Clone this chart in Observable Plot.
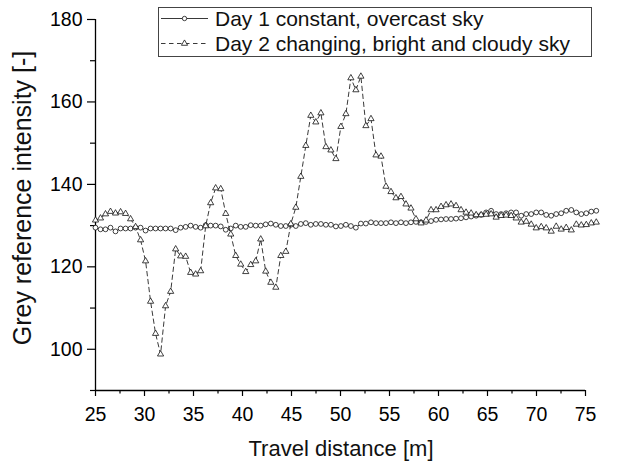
<!DOCTYPE html>
<html><head><meta charset="utf-8">
<script src="https://cdn.jsdelivr.net/npm/d3@7"></script>
<script src="https://cdn.jsdelivr.net/npm/@observablehq/plot@0.6"></script>
<style>body{margin:0;background:#fff} svg{display:block}</style>
</head><body><div id="chart"></div>
<script>
const distance = [25.00,25.51,26.02,26.53,27.04,27.56,28.07,28.58,29.09,29.60,
 30.11,30.62,31.13,31.64,32.15,32.67,33.18,33.69,34.20,34.71,
 35.22,35.73,36.24,36.75,37.26,37.78,38.29,38.80,39.31,39.82,
 40.33,40.84,41.35,41.86,42.37,42.89,43.40,43.91,44.42,44.93,
 45.44,45.95,46.46,46.97,47.48,48.00,48.51,49.02,49.53,50.04,
 50.55,51.06,51.57,52.08,52.59,53.11,53.62,54.13,54.64,55.15,
 55.66,56.17,56.68,57.19,57.70,58.22,58.73,59.24,59.75,60.26,
 60.77,61.28,61.79,62.30,62.81,63.33,63.84,64.35,64.86,65.37,
 65.88,66.39,66.90,67.41,67.92,68.44,68.95,69.46,69.97,70.48,
 70.99,71.50,72.01,72.52,73.03,73.55,74.06,74.57,75.08,75.59,
 76.10];
const day1 = [129.5,129.1,129.1,129.5,128.6,129.3,129.3,129.3,129.5,129.5,
 128.8,129.3,129.3,129.3,129.3,129.3,128.9,129.5,129.7,130.0,
 129.7,129.5,130.1,130.0,130.0,129.8,129.0,129.3,130.0,129.7,
 129.7,130.1,130.0,130.0,130.3,130.5,130.2,129.9,129.9,130.2,
 129.9,130.4,130.6,130.2,130.4,130.4,130.2,130.2,129.8,129.9,
 130.2,129.9,129.5,130.5,130.5,130.8,130.6,130.6,130.6,130.8,
 130.6,130.8,130.6,130.8,130.9,130.8,130.9,131.1,131.4,131.5,
 131.6,131.6,131.7,131.8,132.0,132.2,132.4,132.6,133.2,133.6,
 132.8,132.8,133.0,133.2,133.2,132.4,132.8,132.8,133.2,133.2,
 132.6,132.4,132.8,133.0,133.6,133.8,133.2,132.8,133.0,133.4,
 133.6];
const day2 = [131.3,131.8,132.8,133.4,133.0,133.3,132.9,131.6,129.7,126.5,
 121.4,111.6,103.8,98.8,110.5,114.0,124.3,122.6,122.5,118.6,
 118.2,119.0,129.9,135.5,139.1,138.9,132.9,127.9,122.7,120.6,
 118.8,120.5,121.4,126.7,118.9,116.2,115.0,122.7,123.7,130.4,
 134.4,141.9,149.4,156.7,155.1,157.3,149.1,148.3,146.2,154.0,
 157.1,165.8,162.9,166.2,154.2,155.9,147.1,146.8,139.5,138.2,
 136.7,137.0,135.2,134.2,131.6,130.6,131.3,133.8,133.8,134.6,
 135.0,135.2,134.8,133.8,133.2,133.0,132.6,132.6,132.7,132.8,
 132.0,132.4,132.5,132.4,131.8,130.8,131.0,130.3,129.4,129.7,
 129.4,128.6,129.8,129.1,129.5,128.9,130.3,130.1,130.2,130.6,
 130.8];
const seriesNames = ["Day 1 constant, overcast sky", "Day 2 changing, bright and cloudy sky"];
const xTicks = [25,30,35,40,45,50,55,60,65,70,75];
const xMinor = [27.5,32.5,37.5,42.5,47.5,52.5,57.5,62.5,67.5,72.5];
const yTicks = [100,120,140,160,180];
const yMinor = [90,110,130,150,170];
const xTitle = "Travel distance [m]";
const yTitle = "Grey reference intensity [-]";

const d1 = distance.map((d, i) => ({x: d, y: day1[i]}));
const d2 = distance.map((d, i) => ({x: d, y: day2[i]}));

const W = 617, H = 465;
const plot = Plot.plot({
  width: W, height: H,
  marginLeft: 95, marginRight: 32, marginTop: 19, marginBottom: 75,
  style: {fontFamily: "'Liberation Sans', Arial, sans-serif", background: "#fff", color: "#000"},
  x: {domain: [25, 75]},
  y: {domain: [90, 180]},
  marks: [
    Plot.axisX(xTicks, {tickSize: 6, tickPadding: 11, fontSize: 19.5, label: null, strokeWidth: 1.2}),
    Plot.axisX(xMinor, {tickSize: 3.5, text: null, label: null, strokeWidth: 1.2}),
    Plot.axisY(yTicks, {tickSize: 8, tickPadding: 5, fontSize: 19.5, label: null, strokeWidth: 1.2}),
    Plot.axisY(yMinor, {tickSize: 5, text: null, label: null, strokeWidth: 1.2}),
    Plot.ruleX([25], {y1: 90, y2: 180, stroke: "#000", strokeWidth: 1.3}),
    Plot.ruleY([90], {x1: 25, x2: 75, stroke: "#000", strokeWidth: 1.3}),
    Plot.line(d1, {x: "x", y: "y", stroke: "#222", strokeWidth: 0.9}),
    Plot.dot(d1, {x: "x", y: "y", r: 2.4, symbol: "circle", fill: "#fff", stroke: "#111", strokeWidth: 0.8}),
    Plot.line(d2, {x: "x", y: "y", stroke: "#222", strokeWidth: 0.9, strokeDasharray: "4.5,3.5"}),
    Plot.dot(d2, {x: "x", y: "y", r: 2.3, symbol: "triangle", fill: "#fff", stroke: "#111", strokeWidth: 0.8})
  ]
});
document.getElementById("chart").appendChild(plot);

const svg = d3.select(plot);
const font = "'Liberation Sans', Arial, sans-serif";
svg.append("text").attr("x", 341).attr("y", 456).attr("text-anchor", "middle")
  .attr("font-family", font).attr("font-size", 22).attr("fill", "#111").text(xTitle);
svg.append("text").attr("transform", "translate(31,198) rotate(-90)").attr("text-anchor", "middle")
  .attr("font-family", font).attr("font-size", 25).attr("fill", "#111").text(yTitle);

// legend
const lg = svg.append("g");
lg.append("rect").attr("x", 158.5).attr("y", 7.5).attr("width", 433).attr("height", 49)
  .attr("fill", "#fff").attr("stroke", "#444").attr("stroke-width", 1);
const rows = [18.5, 43.5];
lg.append("line").attr("x1", 161).attr("x2", 208).attr("y1", rows[0]).attr("y2", rows[0])
  .attr("stroke", "#222").attr("stroke-width", 0.9);
lg.append("circle").attr("cx", 184.5).attr("cy", rows[0]).attr("r", 2.2)
  .attr("fill", "#fff").attr("stroke", "#111").attr("stroke-width", 0.8);
lg.append("line").attr("x1", 161).attr("x2", 208).attr("y1", rows[1]).attr("y2", rows[1])
  .attr("stroke", "#222").attr("stroke-width", 0.9).attr("stroke-dasharray", "4.5,3.5");
lg.append("path").attr("transform", `translate(184.5,${rows[1]})`)
  .attr("d", d3.symbol(d3.symbolTriangle, Math.PI * 2.3 * 2.3)())
  .attr("fill", "#fff").attr("stroke", "#111").attr("stroke-width", 0.8);
seriesNames.forEach((name, i) => {
  lg.append("text").attr("x", 215).attr("y", rows[i]).attr("dy", "0.35em").attr("text-anchor", "start")
    .attr("font-family", font).attr("font-size", 21).attr("fill", "#111").text(name);
});
</script>
</body></html>
